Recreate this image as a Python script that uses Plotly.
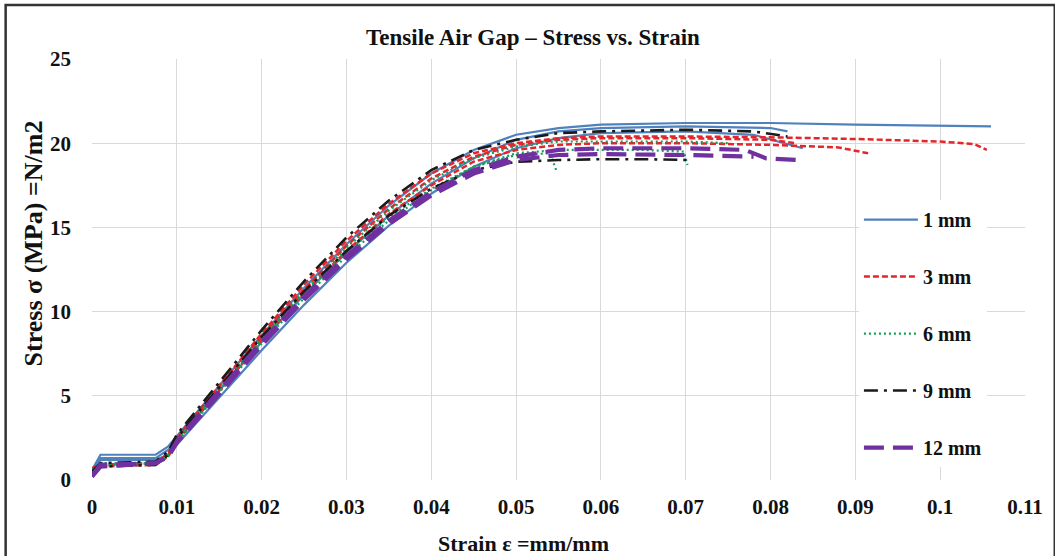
import plotly.graph_objects as go

# ---------------- data ----------------
rise_strain = [0, 0.001, 0.0075, 0.009, 0.01, 0.015, 0.02, 0.025, 0.03, 0.035, 0.04, 0.045, 0.05]

# 1 mm specimens
strain_1a = rise_strain + [0.055, 0.06, 0.07, 0.08, 0.09, 0.1, 0.106]
stress_1a = [0.6, 1.5, 1.5, 2.0, 2.6, 5.6, 8.6, 11.4, 14.0, 16.3, 18.2, 19.6, 20.5,
             20.9, 21.1, 21.2, 21.2, 21.1, 21.05, 21.0]
strain_1b = rise_strain + [0.055, 0.06, 0.07, 0.078, 0.0838]
stress_1b = [0.3, 1.2, 1.2, 1.5, 2.1, 4.9, 7.7, 10.4, 12.9, 15.1, 17.0, 18.6, 19.7,
             20.3, 20.6, 20.7, 20.5, 19.7]
strain_1c = rise_strain + [0.055, 0.06, 0.07, 0.08, 0.082]
stress_1c = [0.5, 1.3, 1.3, 1.8, 2.4, 5.3, 8.2, 11.0, 13.5, 15.7, 17.6, 19.1, 20.2,
             20.7, 20.9, 21.0, 20.9, 20.7]

# 3 mm specimens
strain_3a = rise_strain + [0.055, 0.06, 0.07, 0.08, 0.09, 0.1, 0.104, 0.1055]
stress_3a = [0.7, 0.9, 1.0, 1.6, 2.5, 5.6, 8.7, 11.6, 14.2, 16.4, 18.2, 19.4, 20.0,
             20.3, 20.4, 20.4, 20.35, 20.25, 20.1, 19.95, 19.6]
strain_3b = rise_strain + [0.055, 0.06, 0.07, 0.08, 0.088, 0.0915]
stress_3b = [0.5, 0.8, 0.9, 1.4, 2.3, 5.3, 8.3, 11.1, 13.6, 15.8, 17.5, 18.9, 19.6,
             19.9, 20.0, 20.0, 19.9, 19.75, 19.4]
strain_3c = rise_strain + [0.055, 0.06, 0.07, 0.08, 0.083]
stress_3c = [0.6, 0.9, 1.0, 1.5, 2.4, 5.5, 8.5, 11.3, 13.9, 16.1, 17.9, 19.2, 19.9,
             20.2, 20.3, 20.3, 20.2, 20.0]

# 6 mm specimens
strain_6a = rise_strain + [0.054, 0.0548]
stress_6a = [0.4, 0.9, 1.0, 1.5, 2.3, 5.3, 8.3, 11.1, 13.5, 15.6, 17.3, 18.6, 19.3,
             19.4, 18.3]
strain_6b = rise_strain + [0.055, 0.06, 0.065, 0.0698, 0.0702]
stress_6b = [0.5, 0.9, 1.0, 1.4, 2.2, 5.2, 8.1, 10.8, 13.3, 15.4, 17.2, 18.6, 19.4,
             19.6, 19.6, 19.6, 19.5, 18.7]
strain_6c = rise_strain + [0.055, 0.06, 0.07, 0.075]
stress_6c = [0.6, 1.0, 1.0, 1.5, 2.4, 5.4, 8.4, 11.2, 13.8, 16.0, 17.8, 19.1, 19.8,
             20.1, 20.1, 20.1, 20.0]

# 9 mm specimens
strain_9a = rise_strain + [0.055, 0.06, 0.07, 0.078, 0.082]
stress_9a = [0.5, 1.0, 1.1, 1.7, 2.7, 5.8, 8.9, 11.8, 14.4, 16.6, 18.4, 19.6, 20.2,
             20.6, 20.7, 20.8, 20.7, 20.4]
strain_9b = rise_strain + [0.055, 0.06, 0.065, 0.0705]
stress_9b = [0.4, 0.8, 0.9, 1.5, 2.5, 5.5, 8.5, 11.2, 13.6, 15.7, 17.3, 18.4, 18.9,
             19.0, 19.05, 19.05, 19.0]

# 12 mm specimens
strain_12a = rise_strain + [0.055, 0.06, 0.07, 0.077, 0.0795, 0.0835]
stress_12a = [0.2, 0.8, 1.0, 1.4, 2.3, 5.3, 8.2, 10.9, 13.3, 15.4, 17.1, 18.4, 19.2,
              19.6, 19.7, 19.7, 19.6, 19.1, 19.0]
strain_12b = rise_strain + [0.055, 0.06, 0.07, 0.078]
stress_12b = [0.3, 0.9, 1.0, 1.4, 2.2, 5.1, 8.0, 10.7, 13.1, 15.2, 16.9, 18.2, 19.0,
              19.3, 19.35, 19.3, 19.2]

x_ticks = [0, 0.01, 0.02, 0.03, 0.04, 0.05, 0.06, 0.07, 0.08, 0.09, 0.1, 0.11]
x_tick_text = ["0", "0.01", "0.02", "0.03", "0.04", "0.05", "0.06", "0.07", "0.08", "0.09", "0.1", "0.11"]
y_ticks = [0, 5, 10, 15, 20, 25]

series = [
    ("1 mm", [(strain_1a, stress_1a), (strain_1b, stress_1b), (strain_1c, stress_1c)]),
    ("3 mm", [(strain_3a, stress_3a), (strain_3b, stress_3b), (strain_3c, stress_3c)]),
    ("6 mm", [(strain_6a, stress_6a), (strain_6b, stress_6b), (strain_6c, stress_6c)]),
    ("9 mm", [(strain_9a, stress_9a), (strain_9b, stress_9b)]),
    ("12 mm", [(strain_12a, stress_12a), (strain_12b, stress_12b)]),
]

styles = {
    "1 mm": dict(color="#4f81bd", width=2.2, dash="solid"),
    "3 mm": dict(color="#e3262b", width=2.5, dash="6px,3px"),
    "6 mm": dict(color="#14a05a", width=2.2, dash="2px,3px"),
    "9 mm": dict(color="#1a1a1a", width=2.6, dash="14px,6px,3px,6px"),
    "12 mm": dict(color="#7030a0", width=4.2, dash="20px,9px"),
}

FONT = "Liberation Serif"

fig = go.Figure()
for name, specs in series:
    for i, (xs, ys) in enumerate(specs):
        fig.add_trace(go.Scatter(
            x=xs, y=ys, mode="lines", name=name,
            line=styles[name], legendgroup=name,
            showlegend=(i == 0),
        ))

fig.update_layout(
    width=1055, height=556,
    margin=dict(l=92, r=23, t=59, b=76),
    paper_bgcolor="white", plot_bgcolor="white",
    title=dict(text="Tensile Air Gap – Stress vs. Strain", x=533 / 1055, xanchor="center",
               y=1 - 37 / 556, yanchor="middle",
               font=dict(family=FONT, size=23, color="#111", weight=700)),
    xaxis=dict(range=[0, 0.11], tickvals=x_ticks, ticktext=x_tick_text,
               showgrid=True, gridcolor="#d9d9d9", gridwidth=1, zeroline=False,
               showline=False, ticks="", ticklabelstandoff=12,
               tickfont=dict(family=FONT, size=21, color="#111", weight=700)),
    yaxis=dict(range=[0, 25], tickvals=y_ticks,
               showgrid=True, gridcolor="#d9d9d9", gridwidth=1, zeroline=False,
               showline=False, ticks="", ticklabelstandoff=20,
               tickfont=dict(family=FONT, size=21, color="#111", weight=700)),
    legend=dict(x=0.822, y=0.665, xanchor="left", yanchor="top",
                bgcolor="white", traceorder="grouped", tracegroupgap=28,
                itemwidth=54,
                font=dict(family=FONT, size=20, color="#111", weight=700)),
    annotations=[
        dict(text="Strain ε =mm/mm", xref="paper", yref="paper",
             x=(527 - 92) / 940, y=-(543 - 480) / 421, xanchor="center", yanchor="middle",
             showarrow=False, font=dict(family=FONT, size=22, color="#111", weight=700)),
        dict(text="Stress σ (MPa) =N/m2", xref="paper", yref="paper",
             x=-(92 - 33) / 940, y=(480 - 243) / 421, xanchor="center", yanchor="middle",
             textangle=-90, showarrow=False,
             font=dict(family=FONT, size=26, color="#111", weight=700)),
    ],
    shapes=[
        dict(type="rect", xref="paper", yref="paper",
             x0=-(92 - 5) / 940, x1=(1062 - 92) / 940,
             y0=-(563 - 480) / 421, y1=(480 - 5) / 421,
             line=dict(color="#333333", width=2.5), fillcolor="rgba(0,0,0,0)", layer="below"),
    ],
)

fig.write_html("out.html")
